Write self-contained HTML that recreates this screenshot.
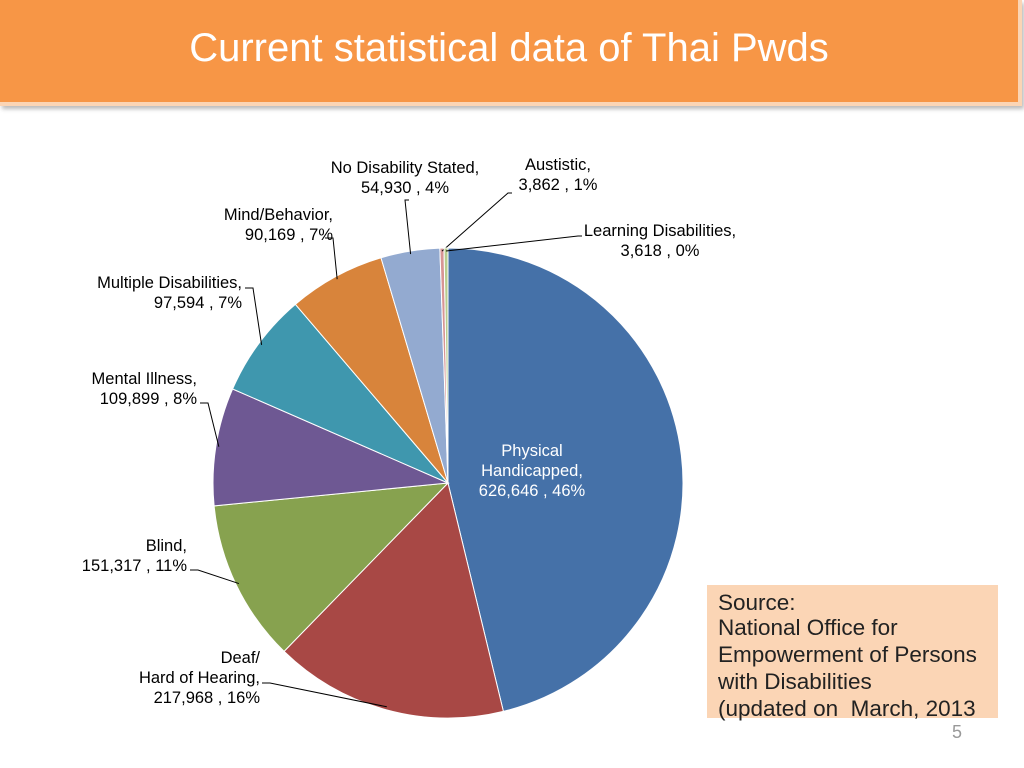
<!DOCTYPE html>
<html><head><meta charset="utf-8"><style>
body{margin:0;width:1024px;height:768px;background:#fff;overflow:hidden;font-family:"Liberation Sans",sans-serif;position:relative}
#hdr{position:absolute;left:0;top:0;width:1018px;height:102px;background:#f79646;border-right:4px solid #fbd5b5;border-bottom:4px solid #fbd5b5;box-shadow:2px 3px 4px #bbb}
#title{position:absolute;left:0;width:1018px;top:26px;text-align:center;color:#fff;font-size:40px}
#src{position:absolute;left:707px;top:585px;width:291px;height:133px;background:#fbd5b5;font-family:"Liberation Sans",sans-serif;color:#222;font-size:22.5px;line-height:27px;padding:7px 0 0 11px;box-sizing:border-box;white-space:nowrap}
#pg{position:absolute;left:952px;top:722px;color:#999;font-size:18px}
</style></head><body>
<div id="hdr"><div id="title">Current statistical data of Thai Pwds</div></div>
<svg id="chart" width="1024" height="768" style="position:absolute;left:0;top:0"></svg>
<div id="src"><div style="line-height:22px">Source:</div>National Office for<br>Empowerment of Persons<br>with Disabilities<br>(updated on &nbsp;March, 2013</div>
<div id="pg">5</div>
<script>
const categories=["Physical Handicapped","Deaf/ Hard of Hearing","Blind","Mental Illness","Multiple Disabilities","Mind/Behavior","No Disability Stated","Austistic","Learning Disabilities"];
const values=[626646,217968,151317,109899,97594,90169,54930,3862,3618];
const pctLabels=["46%","16%","11%","8%","7%","7%","4%","1%","0%"];
const valueLabels=["626,646","217,968","151,317","109,899","97,594","90,169","54,930","3,862","3,618"];
const colors=["#4571a8","#a84845","#87a24f","#6e5893","#3f97ae","#d8843b","#93aad0","#d79594","#b8cc8f"];
const svg=document.getElementById('chart');const NS="http://www.w3.org/2000/svg";
const cx=448,cy=483,r=235;
const total=values.reduce((a,b)=>a+b,0);
function pt(a,rr){return [cx+rr*Math.sin(a),cy-rr*Math.cos(a)];}
const layout=[
 {lines:["Physical","Handicapped,"],x:532,y:456,a:"middle",white:true},
 {lines:["Deaf/","Hard of Hearing,"],x:260,y:663,a:"end",lx:262,ly:683},
 {lines:["Blind,"],x:187,y:551,a:"end",lx:190,ly:570},
 {lines:["Mental Illness,"],x:197,y:384,a:"end",lx:200,ly:403},
 {lines:["Multiple Disabilities,"],x:242,y:288,a:"end",lx:245,ly:288},
 {lines:["Mind/Behavior,"],x:333,y:220,a:"end",lx:325,ly:238},
 {lines:["No Disability Stated,"],x:405,y:173,a:"middle",lx:409,ly:200},
 {lines:["Austistic,"],x:558,y:170,a:"middle",lx:512,ly:193},
 {lines:["Learning Disabilities,"],x:660,y:236,a:"middle",lx:582,ly:236}
];
let ang=0;
values.forEach((v,i)=>{
 const a0=ang,a1=ang+v/total*2*Math.PI;ang=a1;
 const p0=pt(a0,r),p1=pt(a1,r),large=(a1-a0)>Math.PI?1:0;
 const p=document.createElementNS(NS,'path');
 p.setAttribute('d',`M${cx},${cy}L${p0[0]},${p0[1]}A${r},${r} 0 ${large} 1 ${p1[0]},${p1[1]}Z`);
 p.setAttribute('fill',colors[i]);p.setAttribute('stroke','#fff');p.setAttribute('stroke-width','1');
 
 
 svg.appendChild(p);
 const L=layout[i];const lines=L.lines.concat([valueLabels[i]+" , "+pctLabels[i]]);
 const t=document.createElementNS(NS,'text');
 
 
 t.setAttribute('x',L.x);t.setAttribute('y',L.y);t.setAttribute('text-anchor',L.a);
 t.setAttribute('font-size','16.5');t.setAttribute('fill',L.white?'#fff':'#000');t.setAttribute('font-family','Liberation Sans, sans-serif');
 lines.forEach((s,k)=>{const ts=document.createElementNS(NS,'tspan');ts.setAttribute('x',L.x);ts.setAttribute('dy',k?20:0);ts.textContent=s;t.appendChild(ts);});
 svg.appendChild(t);
 if(L.lx!==undefined){
  const mid=(a0+a1)/2,e=pt(mid,r-3);
  const ln=document.createElementNS(NS,'polyline');
  
  
  ln.setAttribute('points',`${L.lx},${L.ly} ${L.lx+(L.a==="end"?8:-4)},${L.ly} ${e[0]},${e[1]}`);
  ln.setAttribute('fill','none');ln.setAttribute('stroke','#000');ln.setAttribute('stroke-width','1');
  svg.appendChild(ln);
 }
});
</script>
</body></html>
